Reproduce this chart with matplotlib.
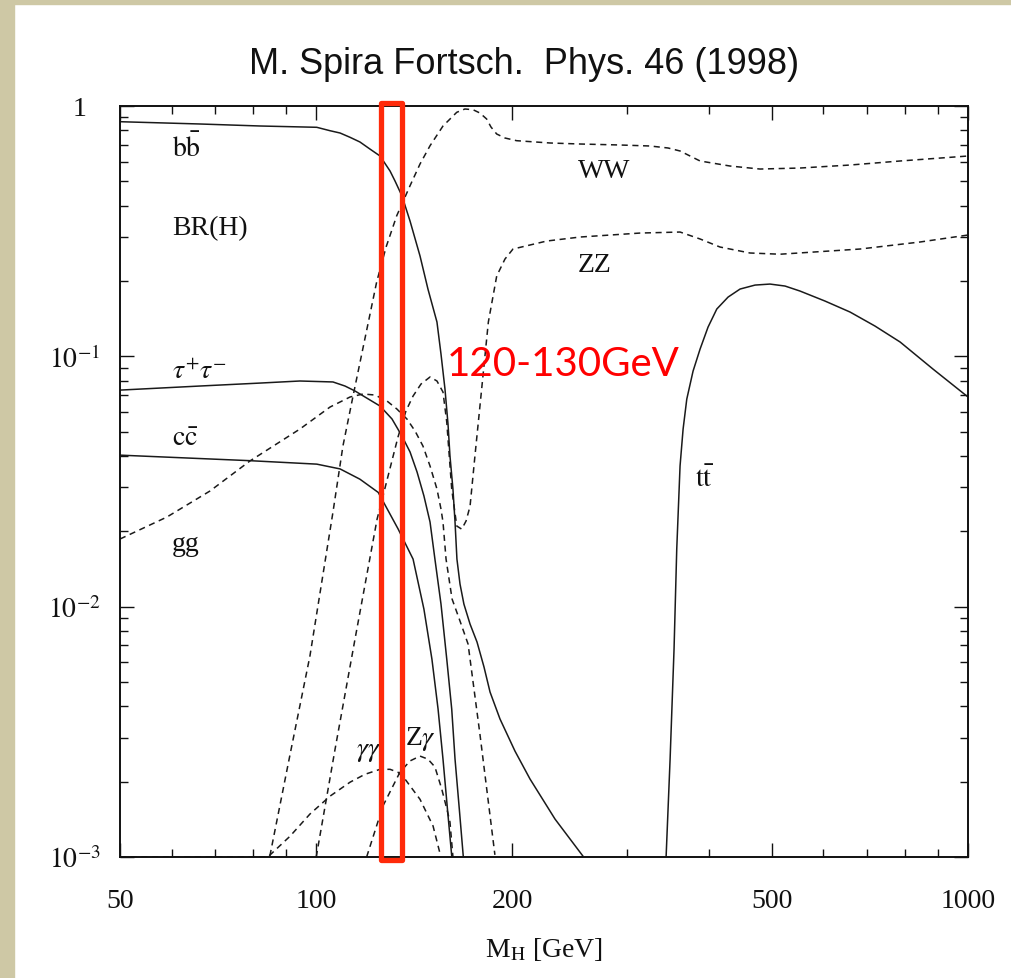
import matplotlib

matplotlib.use("Agg")
import matplotlib.pyplot as plt
from matplotlib.patches import Rectangle
from matplotlib.ticker import FixedLocator, FixedFormatter, NullFormatter

# ---- values (M_H in GeV, branching ratio) ----
BB_M = [50, 66.3, 82.0, 100.2, 105.0, 108.8, 112.7, 116.7, 120.9, 125.3, 129.8, 132.1,
        135.4, 139.3, 144.3, 148.4, 153.2, 155.4, 157.6, 159.3, 160.4, 162.1, 163.3,
        164.4, 166.2, 168.5, 172.2, 176.5, 180.9, 184.8, 191.4, 201.8, 212.8, 232.5, 256.6]
BB_BR = [0.8655, 0.8475, 0.832, 0.8221, 0.7967, 0.780, 0.7497, 0.7182, 0.6731, 0.6313,
         0.5499, 0.5017, 0.437, 0.3471, 0.2517, 0.1857, 0.1371, 0.1021, 0.074, 0.0536,
         0.040, 0.0295, 0.02178, 0.01549, 0.01231, 0.01024, 0.00852, 0.00722, 0.00574,
         0.00456, 0.00356, 0.00265, 0.00205, 0.001417, 0.001008]

TAU_M = [50, 66.3, 82.0, 94.4, 106.1, 110.7, 114.7, 118.8, 125.3, 130.7, 135.4, 139.3,
         142.8, 146.3, 149.5, 152.1, 155.4, 158.6, 161.4, 163.3, 165.8, 168.1]
TAU_BR = [0.0733, 0.0761, 0.0782, 0.0797, 0.0790, 0.0761, 0.0727, 0.0688, 0.0633, 0.0562,
          0.0480, 0.0415, 0.0345, 0.0277, 0.02178, 0.01549, 0.01024, 0.00617, 0.0039,
          0.00246, 0.00155, 0.00101]

CC_M = [50, 79.1, 100.2, 108.8, 116.7, 124.5, 133.6, 140.8, 146.3, 150.5, 153.8,
        156.5, 159.0, 161.4]
CC_BR = [0.0403, 0.0383, 0.0371, 0.0355, 0.0323, 0.0286, 0.0204, 0.01549, 0.00978,
         0.00617, 0.0039, 0.00246, 0.00155, 0.00101]

GG_M = [50, 59.0, 68.7, 79.1, 94.4, 105.0, 112.7, 118.0, 123.1, 128.4, 133.0, 137.8,
        141.8, 145.8, 149.5, 153.2, 155.4, 156.5, 158.2, 161.6, 166.2, 171.0, 178.3, 188.0]
GG_BR = [0.01863, 0.0228, 0.02897, 0.03817, 0.05123, 0.06272, 0.0688, 0.07071, 0.07006,
         0.06631, 0.06157, 0.05617, 0.0503, 0.04382, 0.03646, 0.0295, 0.02454, 0.02178,
         0.01549, 0.01073, 0.00876, 0.00709, 0.0031, 0.00102]

WW_M = [84.9, 91.2, 97.8, 106.1, 109.9, 113.9, 123.8, 128.0, 132.9, 139.3, 144.3, 149.5,
        156.5, 164.3, 169.1, 174.0, 178.3, 182.6, 185.4, 189.2, 194.8, 203.0, 228.4, 253.9,
        292.4, 325.2, 346.6, 361.6, 374.6, 388.1, 431.5, 479.6, 552.4, 659.2, 786.7, 1000]
WW_BR = [0.00101, 0.002577, 0.006347, 0.02387, 0.04382, 0.06942, 0.198, 0.2733, 0.3644,
         0.4803, 0.5866, 0.6939, 0.832, 0.9437, 0.9728, 0.9665, 0.9376, 0.8872, 0.8245,
         0.7729, 0.745, 0.7268, 0.7116, 0.705, 0.6986, 0.6922, 0.6796, 0.6611, 0.6313,
         0.603, 0.5757, 0.560, 0.5652, 0.581, 0.603, 0.6313]

ZZ_M = [100, 106.9, 114.7, 124.0, 133.5, 137.3, 140.8, 144.8, 149.5, 153.2, 156.5, 158.6,
        161.4, 164.3, 167.2, 169.8, 172.2, 175.2, 179.4, 183.7, 189.2, 194.8, 200.4, 225.8,
        253.9, 314.0, 361.6, 388.1, 416.4, 462.9, 514.7, 682.7, 844, 1000]
ZZ_BR = [0.001, 0.0027, 0.00743, 0.02239, 0.04761, 0.0605, 0.0694, 0.0775, 0.0827,
         0.0797, 0.0720, 0.0546, 0.0295, 0.0210, 0.0204, 0.0220, 0.0252, 0.0400, 0.0740,
         0.1371, 0.2093, 0.2447, 0.2683, 0.2888, 0.2996, 0.3108, 0.3137, 0.2943, 0.2733,
         0.2587, 0.2558, 0.2683, 0.2862, 0.3052]

TT_M = [344.2, 349.1, 354.0, 357.4, 361.6, 365.5, 370.3, 378.6, 388.1, 399.2, 411.7, 428.5,
        447.0, 471.3, 496.8, 523.9, 552.4, 603.3, 659.2, 720.0, 786.7, 883.9, 1000]
TT_BR = [0.001, 0.00246, 0.00677, 0.0170, 0.0365, 0.0512, 0.0675, 0.0873, 0.1069, 0.1309,
         0.1545, 0.1725, 0.1857, 0.1926, 0.1944, 0.1909, 0.1823, 0.1663, 0.1503, 0.1321,
         0.1141, 0.0889, 0.0688]

GAGA_M = [50, 84.3, 91.2, 97.8, 105.0, 112.7, 118.8, 125.3, 129.8, 133.5, 136.8, 144.3,
          151.1, 154.9]
GAGA_BR = [0.001, 0.001, 0.001212, 0.001484, 0.00175, 0.00199, 0.00214, 0.00224, 0.00224,
           0.00218, 0.00205, 0.0017, 0.00133, 0.00103]

ZGA_M = [119.5, 126.6, 134.4, 139.3, 144.3, 148.4, 152.1, 155.8, 158.7, 160.4, 162.1]
ZGA_BR = [0.001, 0.0016, 0.00218, 0.00242, 0.00253, 0.00246, 0.00229, 0.00187, 0.00155,
          0.00138, 0.001]

# channel labels: (text, M, BR)
LABELS = [
    (r"$\mathrm{b\bar{b}}$", 60.1, 0.686),
    ("BR(H)", 60.1, 0.326),
    (r"$\tau^{+}\tau^{-}$", 60.1, 0.0873),
    (r"$\mathrm{c\bar{c}}$", 60.1, 0.0468),
    ("gg", 60.1, 0.0178),
    ("WW", 252, 0.55),
    ("ZZ", 252, 0.233),
    (r"$\mathrm{t\bar{t}}$", 381, 0.0323),
    (r"$\gamma\gamma$", 115, 0.00266),
    (r"Z$\gamma$", 136.8, 0.0030),
]

X_MAJOR = [50, 100, 200, 500, 1000]
X_MINOR = [60, 70, 80, 90, 300, 400, 600, 700, 800, 900]
Y_MAJOR = [1e-3, 1e-2, 1e-1, 1]
Y_LABELS = [r"$10^{-3}$", r"$10^{-2}$", r"$10^{-1}$", "1  "]

HIGHLIGHT = (125.6, 135.2)  # band marked in red on the reference

plt.rcParams["font.family"] = "Liberation Serif"
plt.rcParams["mathtext.fontset"] = "stix"

fig = plt.figure(figsize=(10.11, 9.79), dpi=100)
fig.patch.set_facecolor("white")
beige = "#cec8a5"
fig.patches.append(Rectangle((0, 0), 14 / 1011, 1, transform=fig.transFigure,
                             color=beige, zorder=0))
fig.patches.append(Rectangle((0, 1 - 5 / 979), 1, 5 / 979, transform=fig.transFigure,
                             color=beige, zorder=0))

ax = fig.add_axes([120 / 1011, 1 - 858 / 979, 848 / 1011, 751 / 979])
ax.set_xscale("log")
ax.set_yscale("log")
ax.set_xlim(50, 1000)
ax.set_ylim(1e-3, 1)

solid = dict(color="#1a1a1a", lw=1.1, solid_joinstyle="round")
dashed = dict(color="#1a1a1a", lw=1.1, linestyle=(0, (4, 3)))

ax.plot(BB_M, BB_BR, **solid)
ax.plot(TAU_M, TAU_BR, **solid)
ax.plot(CC_M, CC_BR, **solid)
ax.plot(TT_M, TT_BR, **solid)
ax.plot(GG_M, GG_BR, **dashed)
ax.plot(WW_M, WW_BR, **dashed)
ax.plot(ZZ_M, ZZ_BR, **dashed)
ax.plot(GAGA_M, GAGA_BR, **dashed)
ax.plot(ZGA_M, ZGA_BR, **dashed)

for txt, m, br in LABELS:
    ax.text(m, br, txt, fontsize=20, va="center", ha="left", color="#111111")

# ticks
ax.xaxis.set_major_locator(FixedLocator(X_MAJOR))
ax.xaxis.set_major_formatter(FixedFormatter([str(v) for v in X_MAJOR]))
ax.xaxis.set_minor_locator(FixedLocator(X_MINOR))
ax.xaxis.set_minor_formatter(NullFormatter())
ax.yaxis.set_major_locator(FixedLocator(Y_MAJOR))
ax.yaxis.set_major_formatter(FixedFormatter(Y_LABELS))
ax.tick_params(which="both", direction="in", top=True, right=True, width=1.0,
               colors="#111111", labelsize=20)
ax.tick_params(which="major", length=10)
ax.tick_params(which="minor", length=6)
ax.tick_params(axis="x", pad=22)
ax.tick_params(axis="y", pad=14)
for sp in ax.spines.values():
    sp.set_linewidth(1.4)
    sp.set_color("#111111")

ax.set_xlabel(r"M$_{\rm H}$ [GeV]", fontsize=20, labelpad=16, color="#111111")

fig.text(524 / 1011, 1 - 65 / 979, "M. Spira Fortsch.  Phys. 46 (1998)",
         family=["Liberation Sans", "DejaVu Sans"], fontsize=26,
         ha="center", va="center", color="#111111")

# red annotation
band = Rectangle((HIGHLIGHT[0], -0.004), HIGHLIGHT[1] - HIGHLIGHT[0], 1.008,
                 transform=ax.get_xaxis_transform(), fill=False, edgecolor="#ff2a0a",
                 lw=3.8, joinstyle="round", clip_on=False, zorder=5)
ax.add_patch(band)
ax.text(158.8, 0.0932, "120-130GeV", family=["Lato", "DejaVu Sans"], fontsize=29,
        color="#ff0000", va="center", ha="left", zorder=6)

fig.savefig("out.png", dpi=100)
